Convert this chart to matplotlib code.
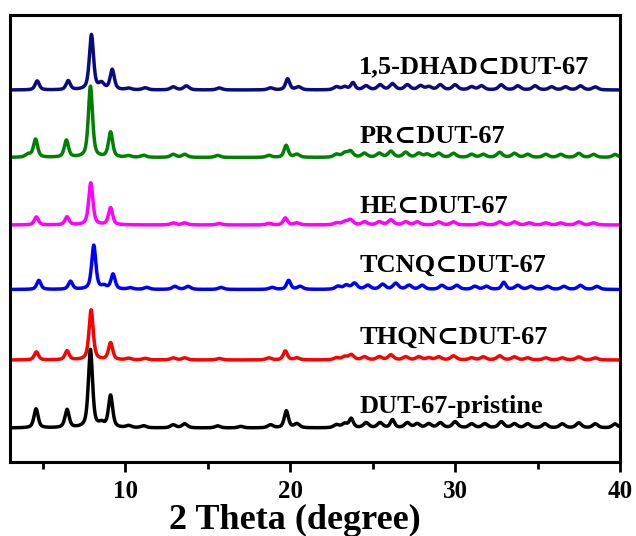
import numpy as np
import matplotlib
matplotlib.use("Agg")
import matplotlib.pyplot as plt

# Sample names, top to bottom
names = ["1,5-DHAD⊂DUT-67", "PR⊂DUT-67", "HE⊂DUT-67",
         "TCNQ⊂DUT-67", "THQN⊂DUT-67", "DUT-67-pristine"]

# Peak tables (2θ in degrees, relative intensity in a.u.)
dhad_pos = [4.65, 6.53, 7.94, 8.55, 9.2, 10.2, 11.2, 12.9, 13.7, 15.7, 18.8, 19.84, 20.5,
            22.8, 23.3, 23.8, 24.6, 25.45, 26.2, 27.1, 27.9, 28.4, 29.1, 30.0, 31.0, 31.6,
            32.8, 33.8, 34.85, 35.85, 36.7, 37.6, 38.5]
dhad_int = [9, 9, 55, 6, 20, 1.5, 2, 3, 4, 2, 2, 11, 3,
            3, 3, 7, 4, 5, 6, 5, 4, 3, 5, 5, 3, 4,
            5, 4, 4, 3, 3, 4, 3]

pr_pos = [4.1, 4.55, 6.42, 7.88, 9.1, 10.2, 11.1, 12.9, 13.6, 15.6, 18.7, 19.75, 20.4,
          22.8, 23.3, 23.65, 24.5, 25.4, 26.1, 27.0, 27.8, 28.3, 29.0, 29.9, 31.0, 31.7,
          32.7, 33.6, 34.4, 35.5, 36.4, 37.5, 38.4, 39.7]
pr_int = [3, 18, 17, 71, 25, 1.5, 2, 3, 3, 2, 2, 12, 3,
          3, 4, 6, 4, 4, 6, 5, 4, 3, 4, 4, 3, 3,
          5, 4, 3, 3, 3, 4, 3, 3]

he_pos = [4.6, 6.46, 7.9, 9.1, 12.9, 13.6, 15.7, 18.7, 19.7, 20.4,
          22.8, 23.3, 23.65, 24.5, 25.4, 26.1, 27.0, 27.7, 29.0, 29.9, 31.6,
          32.7, 33.6, 34.5, 35.5, 36.4, 37.5, 38.4]
he_int = [8, 8, 42, 17, 2, 2, 1.5, 1.5, 7, 2,
          2, 3, 5, 3, 3, 5, 3, 3, 3, 3, 2,
          3, 3, 2, 2, 2, 3, 2]

tcnq_pos = [4.75, 6.67, 8.08, 8.7, 9.25, 10.3, 11.3, 13.0, 13.8, 15.8, 18.9, 19.9, 20.6,
            22.9, 23.4, 23.9, 24.7, 25.6, 26.4, 27.2, 28.0, 29.2, 30.1, 31.2, 31.9,
            32.95, 33.8, 34.6, 35.6, 36.6, 37.6, 38.6]
tcnq_int = [9, 8, 44, 3, 15, 1.5, 2, 3, 3, 2, 2, 9, 3,
            3, 4, 6, 4, 5, 6, 4, 4, 4, 4, 3, 3,
            7, 4, 3, 3, 3, 4, 3]

thqn_pos = [4.6, 6.46, 7.92, 9.1, 10.2, 11.2, 12.9, 13.6, 15.7, 18.7, 19.7, 20.4,
            22.8, 23.3, 23.7, 24.5, 25.4, 26.1, 27.0, 27.8, 28.4, 29.0, 29.9, 31.0, 31.7,
            32.7, 33.6, 34.4, 35.5, 36.5, 37.5, 38.5]
thqn_int = [8, 9, 50, 17, 1.5, 1.5, 2, 2, 1.5, 2, 9, 2,
            2, 3, 5, 3, 3, 5, 3, 3, 2, 3, 4, 2, 3,
            4, 3, 2, 2, 2, 3, 2]

pristine_pos = [4.58, 6.46, 7.88, 8.55, 9.1, 10.2, 11.1, 12.9, 13.6, 15.6, 17.0, 18.8, 19.76,
                20.4, 22.8, 23.3, 23.7, 24.6, 25.45, 26.2, 27.1, 27.7, 28.4, 29.1, 30.0,
                31.0, 31.8, 32.8, 33.6, 34.4, 35.45, 36.5, 37.5, 38.5, 39.7]
pristine_int = [19, 18, 78, 4, 32, 2, 2, 3, 4, 2, 1.5, 3, 17,
                4, 3, 4, 9, 5, 5, 8, 5, 4, 4, 5, 6,
                4, 4, 6, 4, 4, 4, 4, 5, 4, 4]

# Vertical stacking offsets for each pattern
offsets = [372, 304.5, 237, 172.5, 102, 34]

colors = ["#0b0b80", "#008000", "#ff00ff", "#0000ff", "#ff0000", "#000000"]
label_y = [389, 319, 249, 190, 118, 49]

tables = [(dhad_pos, dhad_int), (pr_pos, pr_int), (he_pos, he_int),
          (tcnq_pos, tcnq_int), (thqn_pos, thqn_int), (pristine_pos, pristine_int)]


def profile(tt, pos, inten, fwhm=0.3, eta=0.6):
    """Pseudo-Voigt reflections with peak height equal to intensity."""
    y = np.zeros_like(tt)
    for p, h in zip(pos, inten):
        f = fwhm if h > 6 else fwhm * 1.3
        g = f / 2.0
        lor = g ** 2 / ((tt - p) ** 2 + g ** 2)
        gau = np.exp(-np.log(2) * ((tt - p) / g) ** 2)
        y += h * (eta * lor + (1 - eta) * gau)
    return y


two_theta = np.linspace(3.0, 40.0, 3000)

fig = plt.figure(figsize=(6.36, 5.36), dpi=100)
ax = fig.add_axes([10 / 636, 74 / 536, 610 / 636, 447 / 536])

serif = ["Liberation Serif", "DejaVu Serif"]

for (pos, inten), off, c in zip(tables, offsets, colors):
    ax.plot(two_theta, off + profile(two_theta, pos, inten), color=c, lw=2.5,
            solid_joinstyle="round")

for name, ly in zip(names, label_y):
    ax.text(24.18, ly, name, family=serif, fontweight="bold", fontsize=19,
            va="baseline", ha="left", color="black")

ax.set_xlim(3, 40)
ax.set_ylim(0, 447)
ax.set_yticks([])
ax.set_xticks([10, 20, 30, 40])
ax.set_xticks([5, 15, 25, 35], minor=True)
ax.tick_params(axis="x", which="major", direction="out", length=7, width=2,
               labelsize=18, pad=6)
ax.tick_params(axis="x", which="minor", direction="out", length=5, width=2)
for lab in ax.get_xticklabels():
    lab.set_fontfamily(serif)
    lab.set_fontweight("bold")
for sp in ax.spines.values():
    sp.set_linewidth(2.2)

ax.set_xlabel("2 Theta (degree)", family=serif, fontweight="bold", fontsize=26,
              labelpad=0)
ax.xaxis.set_label_coords((295 - 10) / 610, -0.095)

fig.savefig("out.png", dpi=100)
